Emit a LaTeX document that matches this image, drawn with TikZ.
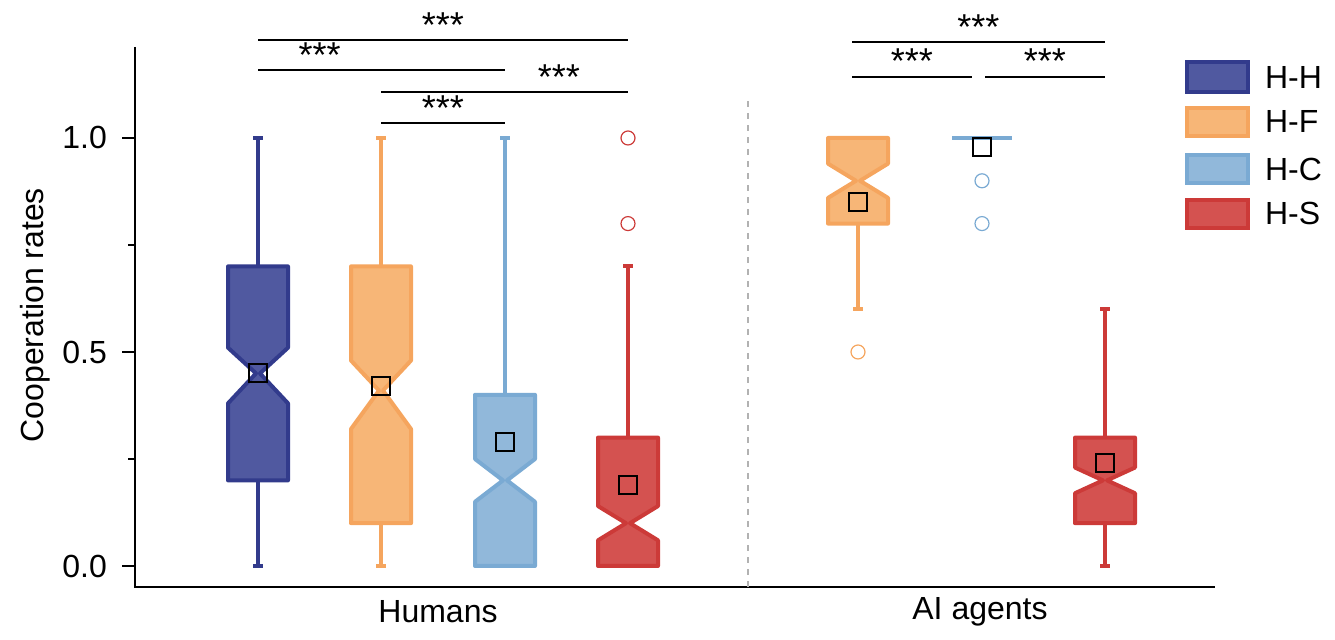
\documentclass[tikz,border=0pt]{standalone}
\usepackage{fontspec}
\setmainfont{Liberation Sans}
\usetikzlibrary{positioning}

\definecolor{hhline}{HTML}{323B8C}\definecolor{hhfill}{HTML}{5059A0}
\definecolor{hfline}{HTML}{F5A55E}\definecolor{hffill}{HTML}{F7B677}
\definecolor{hcline}{HTML}{7AAAD3}\definecolor{hcfill}{HTML}{91B8DA}
\definecolor{hsline}{HTML}{CC3A38}\definecolor{hsfill}{HTML}{D45250}

% #1 x(px), #2 lo, #3 q1, #4 notch low, #5 median, #6 notch high, #7 q3, #8 hi, #9 colour prefix
\newcommand\notchbox[9]{%
  \draw[whisk=#9line] (#1,#2) -- (#1,#3) (#1,#7) -- (#1,#8)
       (#1-5,#2) -- (#1+5,#2) (#1-5,#8) -- (#1+5,#8);
  \draw[boxs, draw=#9line, fill=#9fill]
       (#1-30,#3) -- (#1+30,#3) -- (#1+30,#4) -- (#1+2,#5) -- (#1+30,#6)
       -- (#1+30,#7) -- (#1-30,#7) -- (#1-30,#6) -- (#1-2,#5) -- (#1-30,#4) -- cycle;
}

\begin{document}
\begin{tikzpicture}[x=0.5pt, y=214pt,
    font=\fontsize{16}{18}\selectfont,
    whisk/.style={line width=2pt, draw=#1},
    boxs/.style={line width=2pt, line join=round},
    meanmark/.style={draw=black, line width=1pt, minimum size=9pt, inner sep=0pt},
    outl/.style={circle, draw=#1, line width=0.6pt, minimum size=7pt, inner sep=0pt},
    sig/.style={line width=0.8pt},
    stars/.style={above, inner sep=1pt, font=\fontsize{18}{18}\selectfont},
    legpatch/.style={draw=#1line, fill=#1fill, line width=2pt}
  ]
    \useasboundingbox (0,-0.1729) rectangle (1335,1.3224);

    % Axes
    \draw[line width=0.8pt] (135,1.213) -- (135,-0.049) -- (1215,-0.049);
    \foreach \v/\t in {0/0.0,0.5/0.5,1/1.0} {
      \draw[line width=0.8pt] (122,\v) -- (135,\v);
      \node[anchor=east] (tick\t) at (114,\v) {\t};
    }
    \foreach \v in {0.25,0.75} \draw[line width=0.8pt] (128,\v) -- (135,\v);
    \node[rotate=90] (ylab) at (35,0.586) {Cooperation rates};
    \node (humans) at (438,-0.107) {Humans};
    \node (agents) at (980,-0.107) {AI agents};
    \draw[dashed, gray!60, line width=1pt] (748,-0.049) -- (748,1.1);

    % Humans
    \notchbox{258}{0}{.2}{.38}{.45}{.51}{.7}{1}{hh}
    \notchbox{381}{0}{.1}{.32}{.41}{.48}{.7}{1}{hf}
    \notchbox{505}{0}{0}{.15}{.2}{.25}{.4}{1}{hc}
    \notchbox{628}{0}{0}{.06}{.1}{.14}{.3}{.7}{hs}
    \node[outl=hsline] (o1) at (628,0.8) {};
    \node[outl=hsline] (o2) at (628,1.0) {};

    % AI agents
    \notchbox{858}{.6}{.8}{.86}{.9}{.94}{1}{1}{hf}
    \draw[whisk=hcline] (952,1) -- (1012,1);
    \notchbox{1105}{0}{.1}{.17}{.2}{.23}{.3}{.6}{hs}
    \node[outl=hfline] (o3) at (858,0.5) {};
    \node[outl=hcline] (o4) at (982,0.9) {};
    \node[outl=hcline] (o5) at (982,0.8) {};

    % Means
    \foreach \x/\v [count=\i] in {258/.45,381/.42,505/.29,628/.19,858/.85,982/.98,1105/.24}
      \node[meanmark] (mean\i) at (\x,\v) {};

    % Significance
    \draw[sig] (258,1.229) -- node[stars]{***} (628,1.229);
    \draw[sig] (258,1.159) -- node[stars, pos=0.25]{***} (505,1.159);
    \draw[sig] (381,1.107) -- node[stars, pos=0.72]{***} (628,1.107);
    \draw[sig] (381,1.035) -- node[stars]{***} (505,1.035);
    \draw[sig] (852,1.224) -- node[stars]{***} (1105,1.224);
    \draw[sig] (852,1.143) -- node[stars]{***} (972,1.143);
    \draw[sig] (985,1.143) -- node[stars]{***} (1105,1.143);

    % Legend
    \foreach \c/\t/\top/\bot in {hh/H-H/1.178/1.107, hf/H-F/1.070/1.005, hc/H-C/0.960/0.895, hs/H-S/0.855/0.790} {
      \draw[legpatch=\c] (1187,\bot) rectangle (1248,\top);
      \node[anchor=west] (leg\t) at (1258,{(\top+\bot)/2}) {\t};
    }
\end{tikzpicture}
\end{document}
